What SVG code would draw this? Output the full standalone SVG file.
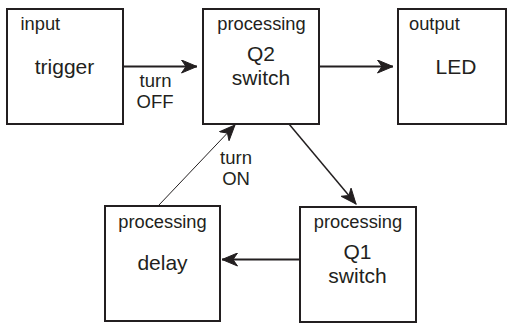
<svg xmlns="http://www.w3.org/2000/svg" width="509" height="323" viewBox="0 0 509 323">
<defs>
<marker id="ah" markerUnits="userSpaceOnUse" markerWidth="17" markerHeight="14" viewBox="0 0 17 14" refX="16" refY="7" orient="auto">
<path d="M0.5,0.5 L16,7 L0.5,13.5 L5,7 z" fill="#231f20" stroke="#231f20" stroke-width="1" stroke-linejoin="miter"/>
</marker>
<style>
.box{fill:#fff;stroke:#231f20;stroke-width:2}
.hd{font-family:"Liberation Sans",Arial,sans-serif;font-size:18.3px;fill:#231f20}
.mn{font-family:"Liberation Sans",Arial,sans-serif;font-size:21px;fill:#231f20;text-anchor:middle}
.lb{font-family:"Liberation Sans",Arial,sans-serif;font-size:18.5px;fill:#231f20;text-anchor:middle}
.c{fill:none;stroke:#231f20}
</style>
</defs>
<rect width="509" height="323" fill="#fff"/>
<g id="input">
<rect class="box" x="7" y="9" width="116" height="115"/>
<text class="hd" x="20.5" y="29.5">input</text>
<text class="mn" x="64.5" y="74">trigger</text>
</g>
<g id="q2">
<rect class="box" x="203" y="9" width="116" height="115"/>
<text class="hd" x="261.5" y="29.5" text-anchor="middle">processing</text>
<text class="mn" x="261" y="61">Q2</text>
<text class="mn" x="261" y="85">switch</text>
</g>
<g id="output">
<rect class="box" x="398" y="9" width="108" height="115"/>
<text class="hd" x="409" y="29.5">output</text>
<text class="mn" x="456" y="74">LED</text>
</g>
<g id="delay">
<rect class="box" x="105" y="206" width="115" height="115"/>
<text class="hd" x="162.5" y="227.5" text-anchor="middle">processing</text>
<text class="mn" x="162.5" y="270">delay</text>
</g>
<g id="q1">
<rect class="box" x="300" y="207" width="116" height="115"/>
<text class="hd" x="358" y="227.5" text-anchor="middle">processing</text>
<text class="mn" x="357.5" y="259">Q1</text>
<text class="mn" x="357.5" y="283">switch</text>
</g>
<g id="connectors">
<line class="c" x1="123" y1="66.5" x2="197" y2="66.5" stroke-width="2" marker-end="url(#ah)"/>
<line class="c" x1="319" y1="66.5" x2="393" y2="66.5" stroke-width="2" marker-end="url(#ah)"/>
<line class="c" x1="289" y1="124" x2="356" y2="204" stroke-width="1.5" marker-end="url(#ah)"/>
<line class="c" x1="300" y1="259.5" x2="222" y2="259.5" stroke-width="2" marker-end="url(#ah)"/>
<line class="c" x1="159" y1="205" x2="235" y2="125" stroke-width="1" marker-end="url(#ah)"/>
<text class="lb" x="155.5" y="87">turn</text>
<text class="lb" x="155" y="108">OFF</text>
<text class="lb" x="236" y="164">turn</text>
<text class="lb" x="236" y="185">ON</text>
</g>
</svg>
